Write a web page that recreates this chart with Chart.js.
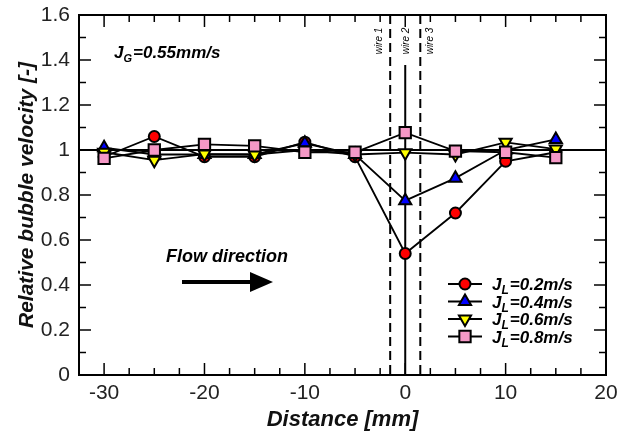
<!DOCTYPE html>
<html>
<head>
<meta charset="utf-8">
<script src="https://cdn.jsdelivr.net/npm/chart.js@4.4.1/dist/chart.umd.min.js"></script>
<style>
  html, body { margin: 0; padding: 0; background: #fff; }
  #wrap { width: 619px; height: 440px; position: relative; }
</style>
</head>
<body>
<div id="wrap"><canvas id="grafico"></canvas></div>
<script>
// Distance [mm]
const distancias = [-30, -25, -20, -15, -10, -5, 0, 5, 10, 15];

// Relative bubble velocity, per liquid velocity
const vel02 = [0.97, 1.06, 0.97, 0.97, 1.035, 0.97, 0.54, 0.72, 0.95, 0.99];
const vel04 = [1.01, 0.98, 0.98, 0.98, 1.03, 0.98, 0.775, 0.875, 1.0, 1.047];
const vel06 = [0.99, 0.955, 0.982, 0.98, 1.0, 0.98, 0.988, 0.98, 1.034, 1.004];
const vel08 = [0.963, 1.0, 1.025, 1.018, 0.99, 0.99, 1.077, 0.995, 0.99, 0.966];

const rotulos = ["=0.2m/s", "=0.4m/s", "=0.6m/s", "=0.8m/s"];

// tick labels
const xTicks = [-30, -20, -10, 0, 10, 20];
const yTicks = [0, 0.2, 0.4, 0.6, 0.8, 1, 1.2, 1.4, 1.6];

// wires (x position) and reference line
const wiresX = [-1.5, 0, 1.5];
const wiresNome = ["wire 1", "wire 2", "wire 3"];
const linhaRef = 1;

const FONTE = "'Liberation Sans', Arial, sans-serif";

const pts = vals => distancias.map((d, i) => ({ x: d, y: vals[i] }));

const estilo = [
    { cor: "#ff0000", forma: "circle", raio: 5.5, rot: 0 },
    { cor: "#0000ff", forma: "triangle", raio: 7, rot: 0 },
    { cor: "#ffff00", forma: "triangle", raio: 7, rot: 180 },
    { cor: "#f598c6", forma: "rect", raio: 8, rot: 0 }
];
const series = [vel02, vel04, vel06, vel08];

const datasets = series.map((v, i) => ({
    label: "JL" + rotulos[i],
    data: pts(v),
    borderColor: "#000",
    borderWidth: 1.8,
    backgroundColor: estilo[i].cor,
    pointBackgroundColor: estilo[i].cor,
    pointBorderColor: "#000",
    pointBorderWidth: 2,
    pointStyle: estilo[i].forma,
    pointRadius: estilo[i].raio,
    pointRotation: estilo[i].rot,
    tension: 0,
    order: 4 - i
}));

function linha(ctx, x1, y1, x2, y2) {
    ctx.beginPath(); ctx.moveTo(x1, y1); ctx.lineTo(x2, y2); ctx.stroke();
}

// texto com subscrito: J + sub + resto
function textoSub(ctx, x, yb, base, sub, resto, tam, tamSub) {
    ctx.font = "italic bold " + tam + "px " + FONTE;
    ctx.fillText(base, x, yb);
    x += ctx.measureText(base).width;
    ctx.font = "italic bold " + tamSub + "px " + FONTE;
    ctx.fillText(sub, x, yb + 4);
    x += ctx.measureText(sub).width + 1;
    ctx.font = "italic bold " + tam + "px " + FONTE;
    ctx.fillText(resto, x, yb);
}

const extras = {
    id: "extras",
    beforeDatasetsDraw(chart) {
        const { ctx, chartArea: a, scales: { x, y } } = chart;
        ctx.save();
        ctx.strokeStyle = "#000";
        ctx.lineWidth = 1.8;
        const py = y.getPixelForValue(linhaRef);
        linha(ctx, a.left, py, a.right, py);

        ctx.lineWidth = 2;
        ctx.setLineDash([9, 5]);
        [wiresX[0], wiresX[2]].forEach(v => {
            const px = x.getPixelForValue(v);
            linha(ctx, px, a.top, px, a.bottom);
        });
        ctx.setLineDash([]);
        const p0 = x.getPixelForValue(wiresX[1]);
        linha(ctx, p0, a.top + 50, p0, a.bottom);

        // wire labels
        ctx.fillStyle = "#000";
        ctx.font = "italic 10px " + FONTE;
        ctx.textAlign = "center";
        ctx.textBaseline = "middle";
        const desloc = [-11, 1, 10];
        wiresX.forEach((v, i) => {
            ctx.save();
            ctx.translate(x.getPixelForValue(v) + desloc[i], a.top + 26);
            ctx.rotate(-Math.PI / 2);
            ctx.fillText(wiresNome[i], 0, 0);
            ctx.restore();
        });
        ctx.restore();
    },
    afterDraw(chart) {
        const { ctx, chartArea: a, scales: { x, y } } = chart;
        ctx.save();
        ctx.strokeStyle = "#000";
        ctx.fillStyle = "#000";

        // ticks para dentro
        ctx.lineWidth = 1.5;
        for (let v = -32.5; v <= 20.001; v += 2.5) {
            const px = x.getPixelForValue(v);
            const len = xTicks.includes(Math.round(v * 10) / 10) ? 12 : 7;
            linha(ctx, px, a.bottom, px, a.bottom - len);
            linha(ctx, px, a.top, px, a.top + len);
        }
        for (let k = 0; k <= 16; k++) {
            const py = y.getPixelForValue(k / 10);
            const len = k % 2 === 0 ? 12 : 7;
            linha(ctx, a.left, py, a.left + len, py);
            linha(ctx, a.right, py, a.right - len, py);
        }

        // moldura
        ctx.lineWidth = 2;
        ctx.strokeRect(a.left, a.top, a.right - a.left, a.bottom - a.top);

        // JG
        ctx.textAlign = "left";
        ctx.textBaseline = "alphabetic";
        textoSub(ctx, 114, 58, "J", "G", "=0.55mm/s", 17, 11);

        // Flow direction
        ctx.font = "italic bold 18px " + FONTE;
        ctx.fillText("Flow direction", 166, 262);
        ctx.lineWidth = 4;
        linha(ctx, 182, 282, 255, 282);
        ctx.beginPath();
        ctx.moveTo(273, 282); ctx.lineTo(250, 272); ctx.lineTo(250, 292); ctx.closePath();
        ctx.fill();

        // legenda
        const linhasY = [284, 301.5, 319, 336.5];
        chart.data.datasets.forEach((ds, i) => {
            const ly = linhasY[i];
            ctx.lineWidth = 1.8;
            ctx.strokeStyle = "#000";
            linha(ctx, 448, ly, 482, ly);
            ctx.fillStyle = estilo[i].cor;
            ctx.lineWidth = 2;
            Chart.helpers.drawPoint(ctx, {
                pointStyle: estilo[i].forma, radius: estilo[i].raio,
                rotation: estilo[i].rot, borderWidth: 2
            }, 465, ly);
            ctx.fillStyle = "#000";
            textoSub(ctx, 492, ly + 6, "J", "L", rotulos[i], 17, 12);
        });
        ctx.restore();
    }
};

new Chart(document.getElementById("grafico").getContext("2d"), {
    type: "line",
    data: { datasets },
    plugins: [extras],
    options: {
        responsive: true,
        maintainAspectRatio: false,
        animation: false,
        layout: { padding: { top: 15, right: 13, left: 0, bottom: 0 } },
        plugins: {
            legend: { display: false },
            tooltip: { enabled: false },
            title: { display: false }
        },
        scales: {
            x: {
                type: "linear",
                min: -32.5,
                max: 20,
                afterBuildTicks: s => { s.ticks = xTicks.map(v => ({ value: v })); },
                afterFit: s => { s.height = 65; s.paddingLeft = 0; s.paddingRight = 0; },
                grid: { display: false, drawTicks: false },
                border: { display: false },
                ticks: {
                    padding: 6,
                    color: "#222",
                    font: { family: FONTE, size: 21 },
                    callback: v => String(v)
                },
                title: {
                    display: true,
                    text: "Distance [mm]",
                    color: "#111",
                    padding: { top: 0, bottom: 7 },
                    font: { family: FONTE, size: 22, weight: "bold", style: "italic" }
                }
            },
            y: {
                min: 0,
                max: 1.6,
                afterBuildTicks: s => { s.ticks = yTicks.map(v => ({ value: v })); },
                afterFit: s => { s.width = 79; s.paddingTop = 0; s.paddingBottom = 0; },
                grid: { display: false, drawTicks: false },
                border: { display: false },
                ticks: {
                    padding: 9,
                    color: "#222",
                    font: { family: FONTE, size: 21 },
                    callback: v => String(Number(v.toFixed(1)))
                },
                title: {
                    display: true,
                    text: "Relative bubble velocity [-]",
                    color: "#111",
                    padding: { top: 15, bottom: 0 },
                    font: { family: FONTE, size: 21, weight: "bold", style: "italic" }
                }
            }
        }
    }
});
</script>
</body>
</html>
